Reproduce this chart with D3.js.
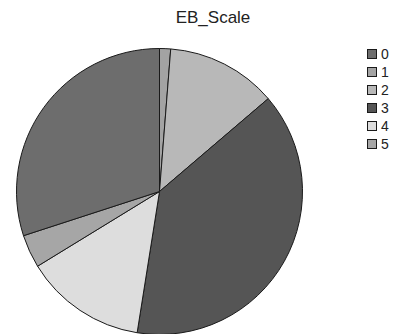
<!DOCTYPE html>
<html>
<head>
<meta charset="utf-8">
<script src="https://cdn.jsdelivr.net/npm/d3@7"></script>
<style>
  html, body { margin: 0; padding: 0; background: #fff; }
  svg { display: block; }
  text { font-family: "Liberation Sans Narrow", "Arial Narrow", "Liberation Sans", Arial, sans-serif; fill: #222; }
</style>
</head>
<body>
<svg id="chart" width="399" height="334"></svg>
<script>
// EB_Scale categories and their counts
const categories = ["0", "1", "2", "3", "4", "5"];
const counts = [24, 1, 10, 31, 11, 3];
const fills = ["#6d6d6d", "#a3a3a3", "#b8b8b8", "#555555", "#dddddd", "#a6a6a6"];
// slices run clockwise from 12 o'clock starting with category "1"; "0" closes the circle
const drawOrder = ["1", "2", "3", "4", "5", "0"];

const svg = d3.select("#chart");
const cx = 159.5, cy = 191.5, r = 143;

svg.append("text")
  .attr("x", 213).attr("y", 23)
  .attr("text-anchor", "middle")
  .attr("font-size", 17)
  .text("EB_Scale");

const rows = categories.map((c, i) => ({ cat: c, value: counts[i], fill: fills[i] }));
const ordered = drawOrder.map(c => rows.find(d => d.cat === c));

const pie = d3.pie().value(d => d.value).sort(null);
const arc = d3.arc().innerRadius(0).outerRadius(r);

const g = svg.append("g").attr("transform", `translate(${cx},${cy})`);
g.selectAll("path")
  .data(pie(ordered))
  .join("path")
  .attr("d", arc)
  .attr("fill", d => d.data.fill)
  .attr("stroke", "#1a1a1a")
  .attr("stroke-width", 1)
  .attr("stroke-linejoin", "round");

// legend
const legendY = d3.scaleBand().domain(categories).range([49, 157]);
const item = svg.append("g").selectAll("g")
  .data(rows)
  .join("g")
  .attr("transform", d => `translate(367,${legendY(d.cat)})`);
item.append("rect")
  .attr("x", 0.5).attr("y", 0.5)
  .attr("width", 9).attr("height", 9)
  .attr("fill", d => d.fill)
  .attr("stroke", "#1a1a1a")
  .attr("stroke-width", 1);
item.append("text")
  .attr("x", 14).attr("y", 10)
  .attr("font-size", 14)
  .text(d => d.cat);
</script>
</body>
</html>
